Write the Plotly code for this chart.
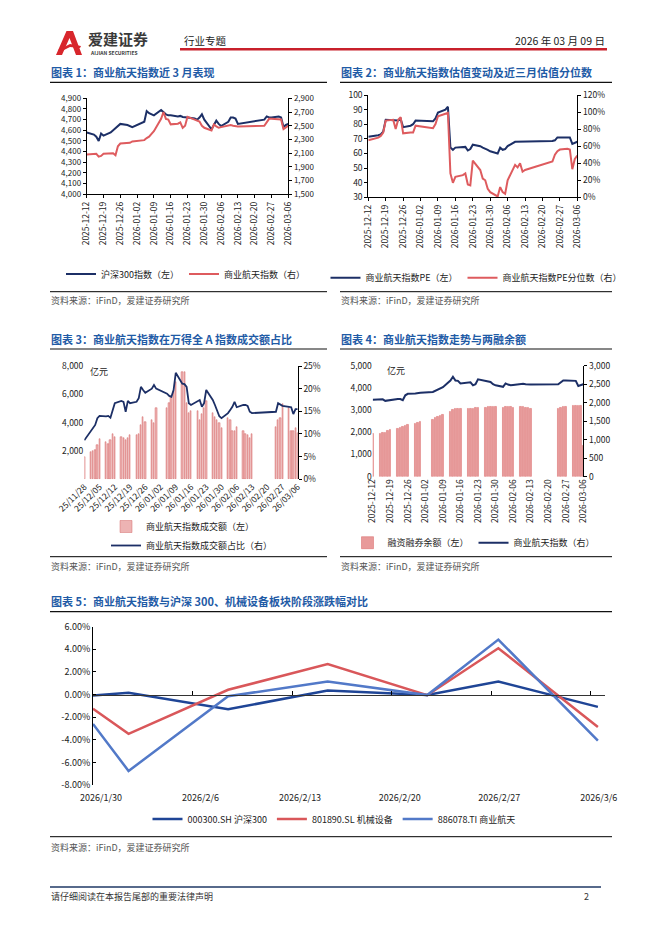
import plotly.graph_objects as go

W, H = 662, 936
def fx(x): return x / W
def fy(y): return 1 - y / H
def xdom(a, b): return [fx(a), fx(b)]
def ydom(top, bottom): return [fy(bottom), fy(top)]

FONT = "Noto Sans CJK SC, Noto Sans, sans-serif"
NAVY = "#1C2F66"
RED = "#DE5B5E"
BLUE_TITLE = "#1F5BA6"

# ---------------- data ----------------
TRADE_DAYS = [
    "2025-12-12",
    "2025-12-15", "2025-12-16", "2025-12-17", "2025-12-18", "2025-12-19",
    "2025-12-22", "2025-12-23", "2025-12-24", "2025-12-25", "2025-12-26",
    "2025-12-29", "2025-12-30", "2025-12-31",
    "2026-01-05", "2026-01-06", "2026-01-07", "2026-01-08", "2026-01-09",
    "2026-01-12", "2026-01-13", "2026-01-14", "2026-01-15", "2026-01-16",
    "2026-01-19", "2026-01-20", "2026-01-21", "2026-01-22", "2026-01-23",
    "2026-01-26", "2026-01-27", "2026-01-28", "2026-01-29", "2026-01-30",
    "2026-02-02", "2026-02-03", "2026-02-04", "2026-02-05", "2026-02-06",
    "2026-02-09", "2026-02-10", "2026-02-11", "2026-02-12", "2026-02-13",
    "2026-02-24", "2026-02-25", "2026-02-26", "2026-02-27",
    "2026-03-02", "2026-03-03", "2026-03-04", "2026-03-05", "2026-03-06",
]
EARLY_DAYS = [
    "2025-11-28",
    "2025-12-01", "2025-12-02", "2025-12-03", "2025-12-04", "2025-12-05",
    "2025-12-08", "2025-12-09", "2025-12-10", "2025-12-11",
]

# 沪深300指数
HS300 = [4580,
         4560, 4540, 4500, 4570, 4550,
         4580, 4600, 4620, 4640, 4660,
         4650, 4640, 4630,
         4680, 4780, 4760, 4750, 4740,
         4790, 4770, 4750, 4740, 4740,
         4730, 4735, 4725, 4720, 4720,
         4710, 4700, 4720, 4750, 4700,
         4610, 4650, 4690, 4660, 4640,
         4680, 4720, 4720, 4710, 4660,
         4700, 4730, 4720, 4720,
         4730, 4720, 4630, 4650, 4660]
# 商业航天指数
SYHT = [2080,
        2090, 2090, 2050, 2060, 2090,
        2100, 2100, 2070, 2200, 2240,
        2250, 2250, 2270,
        2290, 2320, 2340, 2380, 2420,
        2600, 2700, 2600, 2590, 2520,
        2530, 2550, 2470, 2500, 2630,
        2590, 2570, 2560, 2500, 2470,
        2430, 2520, 2490, 2470, 2480,
        2510, 2510, 2500, 2490, 2490,
        2500, 2560, 2600, 2600,
        2600, 2590, 2450, 2470, 2500]
# 商业航天指数PE
PE = [71.5,
      72, 72.5, 73, 75, 83,
      83, 83, 82.5, 83.5, 78,
      79, 80, 82.5,
      82.5, 82, 82, 84, 88,
      90, 92, 64, 62.5, 64,
      64.5, 64.5, 62, 63, 66,
      65, 64, 63.5, 62.5, 61.5,
      60, 64, 62.5, 63, 65,
      68, 68, 68.5, 68, 68,
      68.5, 69, 71, 71,
      71, 71, 66.5, 67, 68]
# 商业航天指数PE分位数 (%)
PE_PCT = [67,
          69, 70, 72, 76, 90,
          91, 80, 91, 94, 75,
          76, 76, 84,
          82, 82, 81, 86, 95,
          98, 99, 28, 17, 24,
          26, 28, 15, 14, 43,
          32, 22, 20, 10, 6,
          1, 12, 6, 4, 20,
          38, 35, 40, 30, 32,
          42, 50, 54, 56,
          57, 56, 33, 45, 49]
# 两融余额 (亿元)
MARGIN = [1950,
          1950, 1960, 2000, 2050, 2100,
          2150, 2200, 2250, 2300, 2350,
          2400, 2450, 2500,
          2550, 2650, 2700, 2750, 2800,
          2950, 3000, 3050, 3050, 3050,
          3050, 3050, 3050, 3100, 3100,
          3100, 3150, 3150, 3150, 3150,
          3100, 3150, 3150, 3150, 3100,
          3150, 3150, 3100, 3100, 3050,
          3050, 3100, 3150, 3150,
          3200, 3200, 3200, 3200, 1400]
# 成交额 (亿元), from 2025-11-28
TURNOVER = [1600,
            1900, 2000, 2100, 2400, 2850,
            2650, 2500, 2800, 3200,
            3000,
            3000, 2900, 2800, 2950, 3100,
            3100, 3200, 3800, 4400, 4050,
            4200, 4000, 5000,
            5000, 5400, 5800, 6200, 6900,
            7600, 7600, 5400, 4700, 4800,
            4800, 4200, 4600, 5000, 5500,
            4700, 4400, 4200, 4000, 3600,
            4300, 4200, 3400, 3400, 3700,
            3400, 3200, 3100, 2900, 3200,
            3700, 4200, 4300, 5300,
            5000, 3400, 3400, 3600, 3300]
# 成交额占比 (%)
TURN_SHARE = [8.6,
              10.6, 11.3, 12.0, 13.5, 14.0,
              13.9, 14.0, 13.6, 15.3,
              16.8,
              17.3, 17.1, 14.9, 17.3, 16.8,
              17.1, 17.9, 20.4, 19.7, 19.1,
              20.0, 20.8, 20.0,
              18.9, 18.4, 18.2, 19.7, 23.5,
              21.1, 21.0, 20.4, 16.8, 16.4,
              17.1, 17.5, 16.0, 16.8, 19.7,
              17.5, 16.4, 15.3, 13.9, 13.5,
              14.6, 15.3, 16.0, 17.1, 15.9,
              16.4, 16.4, 16.2, 14.9, 14.6,
              14.9, 16.8, 16.4, 16.2,
              16.0, 15.9, 14.4, 15.5, 15.5]

WEEK_TICKS = ["2025-12-12", "2025-12-19", "2025-12-26", "2026-01-02", "2026-01-09",
              "2026-01-16", "2026-01-23", "2026-01-30", "2026-02-06", "2026-02-13",
              "2026-02-20", "2026-02-27", "2026-03-06"]
WEEK_LABELS = WEEK_TICKS
WEEK_TICKS3 = ["2025-11-28", "2025-12-05"] + WEEK_TICKS
WEEK_LABELS3 = ["25/11/28", "25/12/05", "25/12/12", "25/12/19", "25/12/26", "26/01/02",
                "26/01/09", "26/01/16", "26/01/23", "26/01/30", "26/02/06", "26/02/13",
                "26/02/20", "26/02/27", "26/03/06"]

# chart 5: 阶段涨跌幅 (%)
PERIOD_DATES = ["2026-01-30", "2026-02-01 12:00", "2026-02-08 12:00", "2026-02-15 12:00",
                "2026-02-22 12:00", "2026-02-27 12:00", "2026-03-06 12:00"]
RET_HS300 = [-0.09, 0.15, -1.30, 0.35, -0.03, 1.15, -1.09]
RET_JXSB = [-1.26, -3.47, 0.42, 2.69, -0.06, 4.10, -2.87]
RET_SYHT = [-2.60, -6.76, -0.15, 1.15, -0.05, 4.86, -4.07]
P5_TICKS = ["2026-01-30", "2026-02-06", "2026-02-13", "2026-02-20", "2026-02-27", "2026-03-06"]
P5_LABELS = ["2026/1/30", "2026/2/6", "2026/2/13", "2026/2/20", "2026/2/27", "2026/3/6"]
P5_YTICKS = [-8, -6, -4, -2, 0, 2, 4, 6]
P5_YLABELS = ["-8.00%", "-6.00%", "-4.00%", "-2.00%", "0.00%", "2.00%", "4.00%", "6.00%"]

# ---------------- figure ----------------
fig = go.Figure()
TF = dict(family=FONT, size=8.5, color="#222")
TF1 = dict(family=FONT, size=8, color="#222")
LF = dict(family=FONT, size=9, color="#222")
DAY_MS = 86400000

fig.add_trace(go.Scatter(x=TRADE_DAYS, y=HS300, name="沪深300指数（左）", mode="lines",
                         line=dict(color=NAVY, width=2), xaxis="x", yaxis="y", legend="legend"))
fig.add_trace(go.Scatter(x=TRADE_DAYS, y=SYHT, name="商业航天指数（右）", mode="lines",
                         line=dict(color=RED, width=2), xaxis="x", yaxis="y2", legend="legend"))

fig.add_trace(go.Scatter(x=TRADE_DAYS, y=PE, name="商业航天指数PE（左）", mode="lines",
                         line=dict(color=NAVY, width=2), xaxis="x2", yaxis="y3", legend="legend2"))
fig.add_trace(go.Scatter(x=TRADE_DAYS, y=[v / 100 for v in PE_PCT], name="商业航天指数PE分位数（右）",
                         mode="lines", line=dict(color=RED, width=2), xaxis="x2", yaxis="y4",
                         legend="legend2"))

DAYS3 = EARLY_DAYS + TRADE_DAYS
fig.add_trace(go.Bar(x=DAYS3, y=TURNOVER, name="商业航天指数成交额（左）", width=0.6 * DAY_MS,
                     marker=dict(color="#EDB3B3", line=dict(color="#D46C6C", width=0.5)),
                     xaxis="x3", yaxis="y5", legend="legend3"))
fig.add_trace(go.Scatter(x=DAYS3, y=[v / 100 for v in TURN_SHARE], name="商业航天指数成交额占比（右）",
                         mode="lines", line=dict(color=NAVY, width=1.8), xaxis="x3", yaxis="y6",
                         legend="legend3"))

fig.add_trace(go.Bar(x=TRADE_DAYS, y=MARGIN, name="融资融券余额（左）", width=0.6 * DAY_MS,
                     marker=dict(color="#E89A9A", line=dict(color="#D86464", width=0.5)),
                     xaxis="x4", yaxis="y7", legend="legend4"))
fig.add_trace(go.Scatter(x=TRADE_DAYS, y=SYHT, name="商业航天指数（右）", mode="lines",
                         line=dict(color=NAVY, width=2), xaxis="x4", yaxis="y8", legend="legend4"))

fig.add_trace(go.Scatter(x=PERIOD_DATES, y=RET_HS300, name="000300.SH 沪深300", mode="lines",
                         line=dict(color="#1F4596", width=2.5), xaxis="x5", yaxis="y9", legend="legend5"))
fig.add_trace(go.Scatter(x=PERIOD_DATES, y=RET_JXSB, name="801890.SL 机械设备", mode="lines",
                         line=dict(color="#D9575A", width=2.5), xaxis="x5", yaxis="y9", legend="legend5"))
fig.add_trace(go.Scatter(x=PERIOD_DATES, y=RET_SYHT, name="886078.TI 商业航天", mode="lines",
                         line=dict(color="#5279C8", width=2.5), xaxis="x5", yaxis="y9", legend="legend5"))
# invisible helper so the zero-line axis is drawn
fig.add_trace(go.Scatter(x=[P5_TICKS[0]], y=[0], mode="markers", marker=dict(opacity=0),
                         showlegend=False, hoverinfo="skip", xaxis="x6", yaxis="y9"))

axis_common = dict(showgrid=False, zeroline=False, tickfont=TF, linecolor="#000", linewidth=1,
                   tickcolor="#000")

def date_x(dom, anchor, ticks, labels, angle):
    return dict(axis_common, domain=dom, anchor=anchor, type="date",
                range=[ticks[0], ticks[-1]], tickvals=ticks, ticktext=labels,
                tickangle=angle, ticks="outside", ticklen=3, showline=True)

Y5_TOP, Y5_BOT = 626.7, 785
y5_pos = fy(Y5_BOT) + (0 - P5_YTICKS[0]) / (P5_YTICKS[-1] - P5_YTICKS[0]) * (fy(Y5_TOP) - fy(Y5_BOT))

fig.update_layout(
    width=W, height=H, margin=dict(l=0, r=0, t=0, b=0, autoexpand=False),
    paper_bgcolor="white", plot_bgcolor="white",
    font=dict(family=FONT, size=9, color="#222"),
    showlegend=True, bargap=0,
    # chart 1
    xaxis=date_x(xdom(86.7, 288.3), "y", WEEK_TICKS, WEEK_LABELS, -90),
    yaxis=dict(axis_common, domain=ydom(98.3, 194.3), anchor="x", range=[4000, 4900], dtick=100,
               tickformat=",", showline=True, ticks="outside", ticklen=3, tickfont=TF1),
    yaxis2=dict(axis_common, overlaying="y", side="right", anchor="x", range=[1500, 2900], dtick=200,
                tick0=1500, tickformat=",", showline=True, ticks="outside", ticklen=3, tickfont=TF1),
    # chart 2
    xaxis2=date_x(xdom(368.3, 577.3), "y3", WEEK_TICKS, WEEK_LABELS, -90),
    yaxis3=dict(axis_common, domain=ydom(95, 197.3), anchor="x2", range=[30, 100], dtick=10,
                showline=True, ticks="outside", ticklen=3),
    yaxis4=dict(axis_common, overlaying="y3", side="right", anchor="x2", range=[0, 1.2], dtick=0.2,
                tickformat=".0%", showline=True, ticks="outside", ticklen=3),
    # chart 3
    xaxis3=dict(date_x(xdom(84.3, 297.7), "y5", WEEK_TICKS3, WEEK_LABELS3, -45), showline=False,
                ticks=""),
    yaxis5=dict(axis_common, domain=ydom(366, 479.3), anchor="x3", range=[0, 8000],
                tickvals=[2000, 4000, 6000, 8000], tickformat=",", showline=False),
    yaxis6=dict(axis_common, overlaying="y5", side="right", anchor="x3", range=[0, 0.25], dtick=0.05,
                tickformat=".0%", showline=True, ticks="outside", ticklen=3),
    # chart 4
    xaxis4=dict(date_x(xdom(372.7, 583.3), "y7", WEEK_TICKS, WEEK_LABELS, -90), showline=False,
                ticks=""),
    yaxis7=dict(axis_common, domain=ydom(365.7, 476.7), anchor="x4", range=[0, 5000], dtick=1000,
                tickformat=",", showline=False),
    yaxis8=dict(axis_common, overlaying="y7", side="right", anchor="x4", range=[0, 3000], dtick=500,
                tickformat=",", showline=True, ticks="outside", ticklen=3),
    # chart 5
    xaxis5=dict(axis_common, domain=xdom(93, 605), anchor="y9", type="date",
                range=["2026-01-30", "2026-03-07"], tickvals=P5_TICKS, ticktext=P5_LABELS,
                ticks="", showline=False, ticklabelstandoff=6, ticklabelshift=8,
                tickfont=dict(family=FONT, size=9, color="#222")),
    yaxis9=dict(axis_common, domain=ydom(Y5_TOP, Y5_BOT), anchor="x5", range=[-8, 6],
                tickvals=P5_YTICKS, ticktext=P5_YLABELS, showline=True, ticks="inside", ticklen=3,
                tickfont=dict(family=FONT, size=9, color="#222")),
    xaxis6=dict(axis_common, overlaying="x5", anchor="free", position=y5_pos, type="date",
                range=["2026-01-30", "2026-03-07"], tickvals=P5_TICKS, showticklabels=False,
                ticks="inside", ticklen=4, showline=True, linecolor="#333"),
    legend=dict(x=fx(186), y=fy(274), xanchor="center", yanchor="middle", orientation="h",
                font=LF, bgcolor="rgba(0,0,0,0)"),
    legend2=dict(x=fx(476), y=fy(277.7), xanchor="center", yanchor="middle", orientation="h",
                 font=LF, bgcolor="rgba(0,0,0,0)"),
    legend3=dict(x=fx(106), y=fy(536), xanchor="left", yanchor="middle", orientation="v",
                 font=LF, bgcolor="rgba(0,0,0,0)", tracegroupgap=0),
    legend4=dict(x=fx(474), y=fy(542.7), xanchor="center", yanchor="middle", orientation="h",
                 font=LF, bgcolor="rgba(0,0,0,0)"),
    legend5=dict(x=fx(334), y=fy(819), xanchor="center", yanchor="middle", orientation="h",
                 font=LF, bgcolor="rgba(0,0,0,0)"),
)

# ---------------- page decorations ----------------
shapes = []
def hline(x0, x1, y, color="#000", width=1):
    shapes.append(dict(type="line", xref="paper", yref="paper", x0=fx(x0), x1=fx(x1),
                       y0=fy(y), y1=fy(y), line=dict(color=color, width=width)))

hline(180, 607, 49.3, "#C8202B", 2.5)
hline(50, 327, 82.3, "#111", 1.2)
hline(340, 612, 82.3, "#111", 1.2)
hline(50, 327, 291.7)
hline(340, 612, 291.7)
hline(50, 327, 349, "#111", 1.2)
hline(340, 612, 349, "#111", 1.2)
hline(50, 327, 556.7)
hline(340, 612, 556.7)
hline(50, 612, 611.7, "#111", 1.2)
hline(50, 612, 836.7)
hline(50, 601, 887, "#1F3864", 1.5)

# logo "A"
def P(pts):
    s = "M" + " L".join(f"{fx(a):.5f},{fy(b):.5f}" for a, b in pts) + " Z"
    return s
shapes.append(dict(type="path", xref="paper", yref="paper",
                   path=P([(56, 55), (66.5, 31), (73, 31), (82, 55), (76, 55), (69.5, 38), (62, 55)]),
                   fillcolor="#D8262C", line=dict(width=0)))
shapes.append(dict(type="path", xref="paper", yref="paper",
                   path=P([(58, 50), (70, 44), (81, 46), (80, 48), (70, 47), (60, 52)]),
                   fillcolor="#D8262C", line=dict(width=0)))

ann = []
def text(x, y, s, size=9, color="#333", bold=False, xanchor="left"):
    ann.append(dict(xref="paper", yref="paper", x=fx(x), y=fy(y), text=f"<b>{s}</b>" if bold else s,
                    showarrow=False, xanchor=xanchor, yanchor="middle",
                    font=dict(family=FONT, size=size, color=color)))

text(86, 39, "爱建证券", 15, "#3A3A3A", True)
text(88, 52.5, "AIJIAN SECURITIES", 5, "#3A3A3A", True)
text(182, 40.7, "行业专题", 10.5, "#222")
text(607, 40.7, "2026 年 03 月 09 日", 10.5, "#222", xanchor="right")

text(49, 71.7, "图表 1：商业航天指数近 3 月表现", 11, BLUE_TITLE, True)
text(339, 71.7, "图表 2：商业航天指数估值变动及近三月估值分位数", 11, BLUE_TITLE, True)
text(49, 339, "图表 3：商业航天指数在万得全 A 指数成交额占比", 11, BLUE_TITLE, True)
text(339, 339, "图表 4：商业航天指数走势与两融余额", 11, BLUE_TITLE, True)
text(49, 601, "图表 5：商业航天指数与沪深 300、机械设备板块阶段涨跌幅对比", 11, BLUE_TITLE, True)

SRC = "资料来源：iFinD，爱建证券研究所"
for (x, y) in [(49, 301), (339, 301), (49, 566), (339, 566), (49, 847)]:
    text(x, y, SRC, 9, "#555")

text(88, 372, "亿元", 9, "#222")
text(385, 371, "亿元", 9, "#222")

text(49, 896, "请仔细阅读在本报告尾部的重要法律声明", 9, "#333")
text(591, 896, "2", 9, "#333", xanchor="right")

fig.update_layout(shapes=shapes, annotations=ann)

fig.write_html("out.html", config=dict(displayModeBar=False),
               post_script="document.body.style.margin='0';document.body.style.overflow='hidden';")
